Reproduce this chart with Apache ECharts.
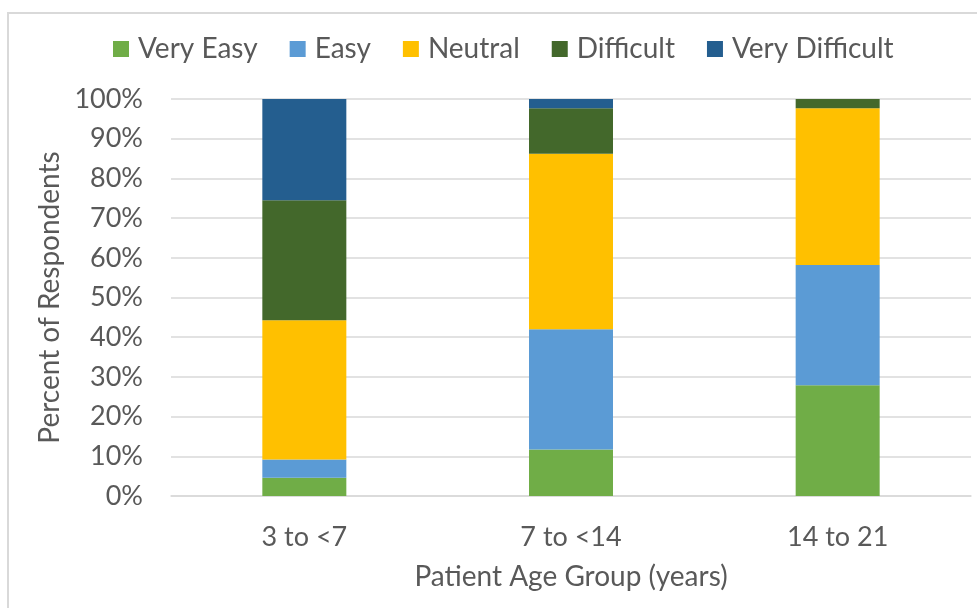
<!DOCTYPE html>
<html>
<head>
<meta charset="utf-8">
<script src="https://cdn.jsdelivr.net/npm/echarts@6/dist/echarts.min.js"></script>
<style>
  html, body { margin: 0; padding: 0; background: #ffffff; }
  #chart { width: 977px; height: 608px; }
</style>
</head>
<body>
<div id="chart"></div>
<script>
// Age groups on the x axis
const categories = ['3 to <7', '7 to <14', '14 to 21'];

// Percent of respondents per difficulty rating, one value per age group
const veryEasy      = [4.6, 11.7, 27.9];
const easy          = [4.6, 30.3, 30.3];
const neutral       = [35.1, 44.2, 39.5];
const difficult     = [30.2, 11.5, 2.3];
const veryDifficult = [25.5, 2.3, 0];

const seriesNames = ['Very Easy', 'Easy', 'Neutral', 'Difficult', 'Very Difficult'];
const seriesValues = [veryEasy, easy, neutral, difficult, veryDifficult];
const seriesColors = ['#70AD47', '#5B9BD5', '#FFC000', '#43682B', '#245E8F'];

const fontFamily = 'Lato, Carlito, Calibri, sans-serif';
const textColor = '#595959';

const chart = echarts.init(document.getElementById('chart'), null, { renderer: 'canvas' });

chart.setOption({
  animation: false,
  backgroundColor: '#ffffff',
  textStyle: { fontFamily: fontFamily, color: textColor },
  graphic: [{
    type: 'rect',
    shape: { x: 8, y: 13, width: 1000, height: 700 },
    style: { fill: 'none', stroke: '#d9d9d9', lineWidth: 2 },
    silent: true
  }],
  legend: {
    data: seriesNames,
    top: 30,
    left: 108,
    itemWidth: 16,
    itemHeight: 16,
    itemGap: 32,
    icon: 'rect',
    textStyle: { fontSize: 28, color: textColor, fontFamily: fontFamily, padding: [0, 0, 0, 4] }
  },
  grid: { left: 171, right: 6, top: 99, bottom: 112, containLabel: false },
  xAxis: {
    type: 'category',
    data: categories,
    name: 'Patient Age Group (years)',
    nameLocation: 'middle',
    nameGap: 67,
    nameTextStyle: { fontSize: 28, color: textColor, fontFamily: fontFamily },
    axisLine: { show: true, lineStyle: { color: '#d9d9d9', width: 1.5 } },
    axisTick: { show: false },
    axisLabel: { fontSize: 27, color: textColor, margin: 28, fontFamily: fontFamily }
  },
  yAxis: {
    type: 'value',
    min: 0,
    max: 100,
    interval: 10,
    name: 'Percent of Respondents',
    nameLocation: 'middle',
    nameGap: 102,
    nameTextStyle: { fontSize: 28, color: textColor, fontFamily: fontFamily },
    axisLine: { show: false },
    axisTick: { show: false },
    axisLabel: { fontSize: 27, color: textColor, margin: 28, formatter: '{value}%', fontFamily: fontFamily },
    splitLine: { lineStyle: { color: '#d9d9d9', width: 1.5 } }
  },
  series: seriesNames.map((name, i) => ({
    name: name,
    type: 'bar',
    stack: 'total',
    barWidth: '31.5%',
    data: seriesValues[i],
    itemStyle: { color: seriesColors[i] }
  }))
});
</script>
</body>
</html>
